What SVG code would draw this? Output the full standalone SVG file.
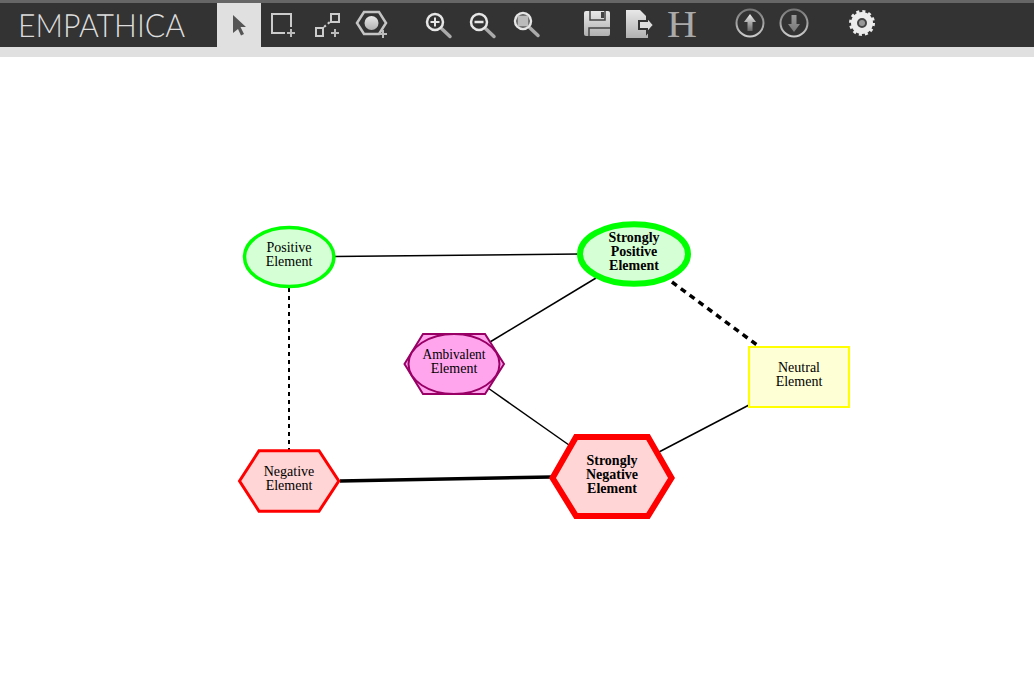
<svg xmlns="http://www.w3.org/2000/svg" width="1034" height="691" viewBox="0 0 1034 691">
<defs>
<linearGradient id="g" x1="0" y1="0" x2="0" y2="1"><stop offset="0" stop-color="#e8e8e8"/><stop offset="1" stop-color="#b0b0b0"/></linearGradient>
<linearGradient id="u" x1="0" y1="0" x2="0" y2="1"><stop offset="0" stop-color="#f0f0f0"/><stop offset="1" stop-color="#666"/></linearGradient>
<linearGradient id="r" x1="0" y1="0" x2="0" y2="1"><stop offset="0" stop-color="#777"/><stop offset="1" stop-color="#ccc"/></linearGradient>
<linearGradient id="d" x1="0" y1="0" x2="0" y2="1"><stop offset="0" stop-color="#999"/><stop offset="1" stop-color="#777"/></linearGradient>
<g id="mag"><path d="M6.500 6.500L15 14.500" stroke="#aaa" stroke-width="3.500" stroke-linecap="round"/><circle cx="0" cy="0" r="8" fill="#333" stroke="#e6e6e6" stroke-width="2.500"/></g>
</defs>
<style>
.t{font-family:"Liberation Serif","Times New Roman",serif;font-size:14px;text-anchor:middle;fill:#000}
.b{font-weight:bold}
.c{fill:none;stroke:#000}
.n{fill:none;stroke:#ccc;stroke-width:2}
.plus{stroke:#bbb;stroke-width:2;fill:none}
</style>
<rect width="1034" height="691" fill="#fff"/>
<g id="toolbar">
<rect width="1034" height="57" fill="#e0e0e0"/>
<rect width="1034" height="47" fill="#333"/>
<rect width="1034" height="3" fill="#666"/>
<rect x="217" y="3" width="44" height="44" fill="#e0e0e0"/>
<text x="18" y="37" font-family="Lato,'Liberation Sans',sans-serif" font-weight="300" font-size="32" fill="#ddd" textLength="167" lengthAdjust="spacingAndGlyphs" style="text-rendering:geometricPrecision">EMPATHICA</text>
<path d="M233 15L246 27L240.500 27L244 34L241 35.500L238 29L233 33Z" fill="#555"/>
<path d="M291 27V14H272V33H285" class="n"/><path d="M287 33H295M291 29V37" class="plus"/>
<path d="M316 28h7v8h-7zM331 14h8v8h-8z" class="n"/><path d="M324 27l7-6" stroke="#ccc" stroke-width="2" stroke-dasharray="2.500 2.500"/><path d="M331 33H339M335 29V37" class="plus"/>
<path d="M357 23L364 12H379L386 23L379 34H364Z" fill="#333" stroke="#c4c4c4" stroke-width="2.500"/><ellipse cx="371.500" cy="23" rx="7" ry="7" fill="url(#g)"/><path d="M379 34H387M383 30V38" class="plus"/>
<use href="#mag" x="435" y="22"/><path d="M430.500 22H439.500M435 17.500V26.500" stroke="#e6e6e6" stroke-width="2"/>
<use href="#mag" x="479" y="22"/><path d="M474.500 22H483.500" stroke="#e6e6e6" stroke-width="2.500"/>
<use href="#mag" x="523" y="21"/><rect x="517.500" y="15.500" width="11" height="11" fill="#bbb" rx="1"/>
<path d="M586 11H608Q610 11 610 13V34Q610 36 608 36H586Q584 36 584 34V13Q584 11 586 11Z" fill="url(#g)"/><path d="M590 11V20H605V11" fill="none" stroke="#444" stroke-width="1.500"/><rect x="601" y="12" width="3" height="6" fill="#444"/><path d="M589 36V28H610" fill="none" stroke="#444" stroke-width="1.500"/>
<path d="M626 10H640L648 18V38H626Z" fill="url(#g)"/><path d="M647 17L654 25L647 33V29H639V21H647Z" fill="#ddd" stroke="#333" stroke-width="2"/>
<text x="682" y="37" font-family="'Liberation Serif',serif" font-size="37" text-anchor="middle" fill="#aaa" textLength="30" lengthAdjust="spacingAndGlyphs">H</text>
<circle cx="750" cy="23" r="13.500" fill="none" stroke="url(#r)" stroke-width="2"/><path d="M750 14L756 22H752.500V31H747.500V22H744Z" fill="url(#u)"/>
<circle cx="794" cy="23" r="13.500" fill="none" stroke="url(#r)" stroke-width="2"/><path d="M794 32L800 24H796.500V15H791.500V24H788Z" fill="url(#d)"/>
<circle cx="862" cy="23" r="8" fill="#444" stroke="#ececec" stroke-width="6"/><circle cx="862" cy="23" r="11.500" fill="none" stroke="#ececec" stroke-width="3" stroke-dasharray="3 3.020"/><circle cx="862" cy="23" r="3" fill="#999"/>
</g>
<g id="connectors">
<path class="c" stroke-width="1.500" d="M334 256.500L580 254"/>
<path class="c" stroke-width="2" stroke-dasharray="4 4" d="M289 288V450"/>
<path class="c" stroke-width="1.500" d="M490 342L596 278"/>
<path class="c" stroke-width="1.500" d="M488 388L569 445"/>
<path class="c" stroke-width="3.500" stroke-dasharray="6 5" d="M672 282L757 345"/>
<path class="c" stroke-width="1.500" d="M659 452L749 405"/>
<path class="c" stroke-width="3.500" d="M340 481L551 477"/>
</g>
<g id="positive"><ellipse cx="289.200" cy="257" rx="44.700" ry="29.500" fill="#d5ffd5" stroke="#0f0" stroke-width="3.500"/><text class="t" x="289" y="252">Positive</text><text class="t" x="289" y="266">Element</text></g>
<g id="strongly-positive"><ellipse cx="634" cy="254" rx="54" ry="29.800" fill="#d5ffd5" stroke="#0f0" stroke-width="6"/><text class="t b" x="634" y="242">Strongly</text><text class="t b" x="634" y="256">Positive</text><text class="t b" x="634" y="270">Element</text></g>
<g id="ambivalent"><path d="M404.500 364L423 334H485L504 364L485 394H423Z" fill="#ffa5ee" stroke="#906" stroke-width="2"/><ellipse cx="454" cy="364" rx="45.500" ry="30" fill="#ffa5ee" stroke="#906" stroke-width="2"/><text class="t" x="454" y="359" textLength="63" lengthAdjust="spacingAndGlyphs">Ambivalent</text><text class="t" x="454" y="373">Element</text></g>
<g id="neutral"><rect x="749" y="347" width="100" height="60" fill="#ffffd5" stroke="#ff0" stroke-width="2"/><text class="t" x="799" y="372">Neutral</text><text class="t" x="799" y="386">Element</text></g>
<g id="negative"><path d="M239.500 481L259 450.800H319L338.800 481L319 511.200H259Z" fill="#ffd5d5" stroke="#f00" stroke-width="3"/><text class="t" x="289" y="476">Negative</text><text class="t" x="289" y="490">Element</text></g>
<g id="strongly-negative"><path d="M552.500 478L576 437H648L671.500 478L648 516H576Z" fill="#ffd5d5" stroke="#f00" stroke-width="6"/><text class="t b" x="612" y="465">Strongly</text><text class="t b" x="612" y="479">Negative</text><text class="t b" x="612" y="493">Element</text></g>
</svg>
